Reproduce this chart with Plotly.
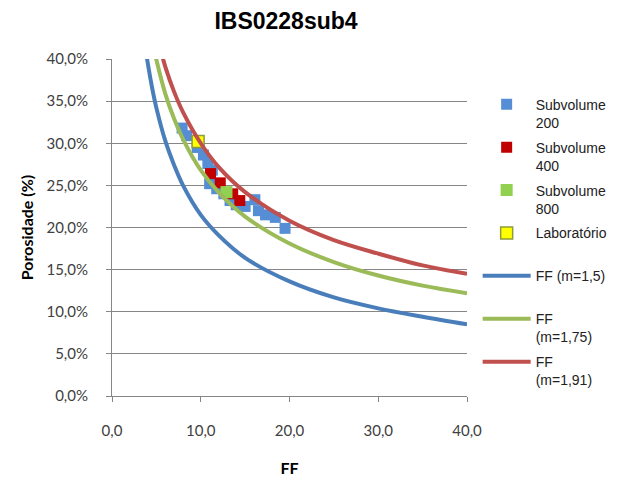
import plotly.graph_objects as go

# ---- data ----
sub200_ff = [7.9, 8.4, 9.6, 10.3, 10.8, 11.3, 11.0, 11.8, 12.6, 13.3, 14.0, 15.0, 16.1, 16.5, 17.3, 18.4, 19.5]
sub200_phi = [31.8, 30.9, 29.5, 28.6, 27.6, 26.8, 25.2, 24.6, 24.0, 23.2, 22.7, 22.5, 23.3, 22.0, 21.5, 21.2, 19.9]

sub400_ff = [11.1, 12.2, 13.6, 14.4]
sub400_phi = [26.4, 25.3, 24.0, 23.2]

sub800_ff = [12.9]
sub800_phi = [24.2]

lab_ff = [9.7]
lab_phi = [30.2]

m15_ff = [3.7, 4.0, 4.5, 5.0, 6.0, 7.0, 8.0, 10.0, 12.0, 15.0, 20.0, 25.0, 30.0, 35.0, 40.0]
m15_phi = [41.8, 39.7, 36.7, 34.2, 30.3, 27.4, 25.0, 21.5, 19.1, 16.4, 13.6, 11.7, 10.4, 9.4, 8.5]

m175_ff = [4.5, 5.0, 6.0, 7.0, 8.0, 10.0, 12.0, 15.0, 20.0, 25.0, 30.0, 35.0, 40.0]
m175_phi = [42.3, 39.9, 35.9, 32.9, 30.5, 26.8, 24.2, 21.3, 18.1, 15.9, 14.3, 13.1, 12.2]

m191_ff = [5.0, 5.5, 6.0, 7.0, 8.0, 10.0, 12.0, 15.0, 20.0, 25.0, 30.0, 35.0, 40.0]
m191_phi = [43.1, 41.0, 39.1, 36.1, 33.7, 30.0, 27.2, 24.2, 20.8, 18.5, 16.9, 15.5, 14.5]

x_ticks = [0, 10, 20, 30, 40]
x_ticktext = ["0,0", "10,0", "20,0", "30,0", "40,0"]
y_ticks = [0, 5, 10, 15, 20, 25, 30, 35, 40]
y_ticktext = ["0,0%", "5,0%", "10,0%", "15,0%", "20,0%", "25,0%", "30,0%", "35,0%", "40,0%"]

names = ["Subvolume<br>200", "Subvolume<br>400", "Subvolume<br>800", "Laboratório<br> ",
         "FF (m=1,5)<br> ", "FF<br>(m=1,75)", "FF<br>(m=1,91)"]

fig = go.Figure()

fig.add_trace(go.Scatter(x=sub200_ff, y=sub200_phi, mode="markers", name=names[0], legendgroup="a",
                         marker=dict(symbol="square", size=11, color="#558ED5", line=dict(width=0))))
fig.add_trace(go.Scatter(x=sub400_ff, y=sub400_phi, mode="markers", name=names[1], legendgroup="b",
                         marker=dict(symbol="square", size=11, color="#C00000", line=dict(width=0))))
fig.add_trace(go.Scatter(x=sub800_ff, y=sub800_phi, mode="markers", name=names[2], legendgroup="c",
                         marker=dict(symbol="square", size=12, color="#92D050", line=dict(width=0))))
fig.add_trace(go.Scatter(x=lab_ff, y=lab_phi, mode="markers", name=names[3], legendgroup="d",
                         marker=dict(symbol="square", size=12, color="#FFFF00", line=dict(width=1.5, color="#8F9A3A"))))
fig.add_trace(go.Scatter(x=m15_ff, y=m15_phi, mode="lines", name=names[4], legendgroup="e",
                         line=dict(color="#4A7EBB", width=4, shape="spline")))
fig.add_trace(go.Scatter(x=m175_ff, y=m175_phi, mode="lines", name=names[5], legendgroup="f",
                         line=dict(color="#9BBB59", width=4, shape="spline")))
fig.add_trace(go.Scatter(x=m191_ff, y=m191_phi, mode="lines", name=names[6], legendgroup="g",
                         line=dict(color="#C0504D", width=4, shape="spline")))

tickfont = dict(family="Lato", size=15, color="#404040")

fig.update_layout(
    width=642, height=480,
    margin=dict(l=112, r=175, t=59, b=84),
    paper_bgcolor="white", plot_bgcolor="white",
    title=dict(text="<b>IBS0228sub4</b>", x=286 / 642, xanchor="center", y=1 - 21 / 480, yanchor="middle",
               font=dict(family="Liberation Sans", size=23, color="black")),
    showlegend=True,
    legend=dict(x=1.03, y=0.912, xanchor="left", yanchor="top", valign="top",
                font=dict(family="Liberation Sans", size=14, color="#222222"),
                tracegroupgap=3.5, itemwidth=48, bgcolor="rgba(0,0,0,0)"),
    xaxis=dict(range=[0, 40], tickvals=x_ticks, ticktext=x_ticktext, tickfont=tickfont, automargin=False,
               showgrid=False, zeroline=False, showline=True, linecolor="#868686", linewidth=1,
               ticks="outside", ticklen=5, tickcolor="#868686", ticklabelstandoff=16,
               title=dict(text="<b>FF</b>", font=dict(family="Lato", size=16, color="black"), standoff=24)),
    yaxis=dict(range=[0, 40], tickvals=y_ticks, ticktext=y_ticktext, tickfont=tickfont, automargin=False,
               showgrid=True, gridcolor="#868686", gridwidth=1, zeroline=False,
               showline=True, linecolor="#868686", linewidth=1,
               ticks="outside", ticklen=5, tickcolor="#868686", ticklabelstandoff=15,
               title=dict(text="<b>Porosidade (%)</b>", font=dict(family="Lato", size=16, color="black"), standoff=8)),
)

fig.write_html("out.html")
